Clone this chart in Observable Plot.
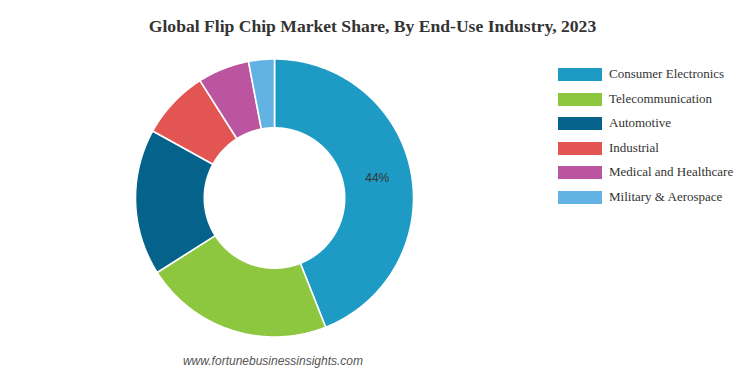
<!DOCTYPE html>
<html>
<head>
<meta charset="utf-8">
<script src="https://cdn.jsdelivr.net/npm/d3@7"></script>
<script src="https://cdn.jsdelivr.net/npm/@observablehq/plot@0.6"></script>
<style>
  html, body { margin: 0; padding: 0; background: #fff; }
  #wrap { position: relative; width: 745px; height: 372px; overflow: hidden; }
  #title { position: absolute; left: 0; top: 16px; width: 745px; text-align: center;
    font-family: "Liberation Serif", "Times New Roman", serif; font-weight: bold; font-size: 17.6px; color: #333; }
  #legend { position: absolute; left: 558px; top: 68px; font-family: "Liberation Serif", "Times New Roman", serif; font-size: 13px; color: #333; }
  .item { height: 24.5px; display: flex; align-items: flex-start; }
  .sw { width: 44px; height: 13px; margin-right: 7px; flex: none; }
  .lab { line-height: 13px; margin-top: -1px; }
  #caption { position: absolute; left: 0; top: 354px; width: 546px; text-align: center;
    font-family: "Liberation Sans", Arial, sans-serif; font-style: italic; font-size: 12px; color: #555; }
  #chart { position: absolute; left: 0; top: 0; }
</style>
</head>
<body>
<div id="wrap">
  <div id="chart"></div>
  <div id="title">Global Flip Chip Market Share, By End-Use Industry, 2023</div>
  <div id="legend"></div>
  <div id="caption">www.fortunebusinessinsights.com</div>
</div>
<script>
const categories = ["Consumer Electronics", "Telecommunication", "Automotive", "Industrial", "Medical and Healthcare", "Military & Aerospace"];
const shares = [44, 22, 17, 8, 6, 3];
const colors = ["#1e9bc4", "#8dc63f", "#05628a", "#e35553", "#bc55a0", "#62b3e4"];
const shownLabels = ["44%", "", "", "", "", ""];

const innerRatio = 0.505;
const pie = d3.pie().sort(null).value(d => d)(shares);

// Build arc polygons in unit coordinates (angle clockwise from top)
const pts = [];
pie.forEach((p, i) => {
  const n = Math.max(8, Math.ceil((p.endAngle - p.startAngle) / 0.01));
  for (let k = 0; k <= n; k++) {
    const a = p.startAngle + (p.endAngle - p.startAngle) * k / n;
    pts.push({cat: categories[i], x: Math.sin(a), y: Math.cos(a)});
  }
  for (let k = n; k >= 0; k--) {
    const a = p.startAngle + (p.endAngle - p.startAngle) * k / n;
    pts.push({cat: categories[i], x: innerRatio * Math.sin(a), y: innerRatio * Math.cos(a)});
  }
});

const labelData = pie.map((p, i) => {
  const a = (p.startAngle + p.endAngle) / 2;
  const r = (1 + innerRatio) / 2;
  return {label: shownLabels[i], x: r * Math.sin(a), y: r * Math.cos(a)};
}).filter(d => d.label);

const cx = 274, cy = 197.5, R = 139;
const chart = Plot.plot({
  width: 745, height: 372,
  margin: 0,
  x: {domain: [-1, 1], range: [cx - R, cx + R], axis: null},
  y: {domain: [-1, 1], range: [cy + R, cy - R], axis: null},
  color: {domain: categories, range: colors},
  marks: [
    Plot.line(pts, {x: "x", y: "y", z: "cat", fill: "cat", stroke: "#fff", strokeWidth: 1.6, strokeLinejoin: "round", curve: "linear-closed"}),
    Plot.text(labelData, {x: "x", y: "y", text: "label", fill: "#333", fontSize: 12, fontFamily: "Liberation Sans, Arial, sans-serif"})
  ]
});
document.getElementById("chart").appendChild(chart);

const legend = document.getElementById("legend");
categories.forEach((c, i) => {
  const it = document.createElement("div");
  it.className = "item";
  it.innerHTML = `<div class="sw" style="background:${colors[i]}"></div><div class="lab"></div>`;
  it.querySelector(".lab").textContent = c;
  legend.appendChild(it);
});
</script>
</body>
</html>
